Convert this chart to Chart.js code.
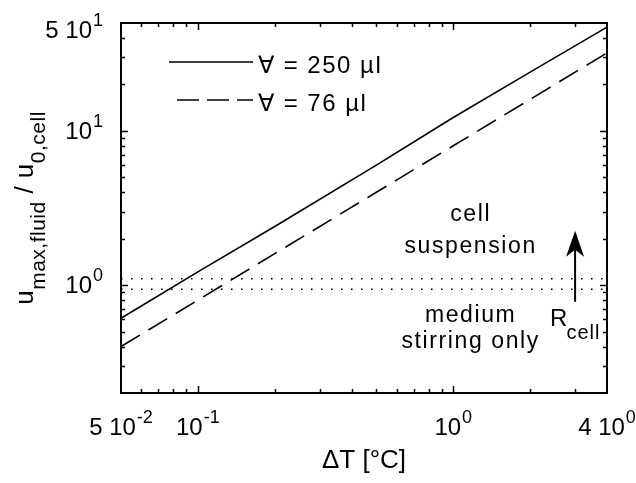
<!DOCTYPE html>
<html><head><meta charset="utf-8">
<script src="https://cdn.jsdelivr.net/npm/chart.js@4/dist/chart.umd.min.js"></script>
<style>html,body{margin:0;padding:0;background:#fff;}canvas{display:block;}</style>
</head><body>
<canvas id="c" width="636" height="483"></canvas>
<script>
// ---- data ----
const deltaT = [0.05, 0.1, 0.2, 0.5, 1, 2, 4];
const u250 = [0.61, 1.22, 2.4, 6.0, 12.2, 24, 47];
const u76 = [0.40, 0.80, 1.6, 4.0, 8.0, 16, 32];
const thresholdLevels = [1.1, 0.94];
const seriesLabels = ['\u2200 = 250 \u00b5l', '\u2200 = 76 \u00b5l'];

const xTickValues = [0.05, 0.1, 1, 4];
const xTickMant = ['5 ', '', '', '4 '];
const xTickExp = ['-2', '-1', '0', '0'];
const yTickValues = [50, 10, 1];
const yTickMant = ['5 ', '', ''];
const yTickExp = ['1', '1', '0'];
const xMajor = [0.1, 1];
const xMinor = [0.06, 0.07, 0.08, 0.09, 0.2, 0.3, 0.4, 0.5, 0.6, 0.7, 0.8, 0.9, 2, 3];
const yMajor = [1, 10];
const yMinor = [0.3, 0.4, 0.5, 0.6, 0.7, 0.8, 0.9, 2, 3, 4, 5, 6, 7, 8, 9, 20, 30, 40];

// annotation positions (data coords, text baselines)
const annX = 1.17;
const annTexts = ['cell', 'suspension', 'medium', 'stirring only'];
const annY = [2.6, 1.61, 0.575, 0.39];
const arrowX = 3.0, arrowFrom = 0.78, arrowTo = 2.25;
const rLabelX = 3.0, rLabelY = 0.545;

const FONT = '"Liberation Sans", Arial, sans-serif';

function pts(xs, ys) { return xs.map((x, i) => ({ x: x, y: ys[i] })); }

const datasets = [
  { data: pts(deltaT, u250), borderColor: '#000', borderWidth: 1.6, pointRadius: 0, tension: 0 },
  { data: pts(deltaT, u76), borderColor: '#000', borderWidth: 1.6, borderDash: [22, 10], pointRadius: 0, tension: 0 }
];
thresholdLevels.forEach(v => {
  datasets.push({ data: [{ x: 0.05, y: v }, { x: 4, y: v }], borderColor: '#000', borderWidth: 1.6, borderDash: [1.6, 8.4], pointRadius: 0 });
});

function drawPow(ctx, mant, exp, x, y, align) {
  const bf = '24px ' + FONT, sf = '18px ' + FONT;
  ctx.letterSpacing = '0px';
  ctx.font = bf; const wb = ctx.measureText(mant + '10').width;
  ctx.font = sf; const ws = ctx.measureText(exp).width;
  const tw = wb + ws + 1;
  let x0 = align === 'center' ? x - tw / 2 : (align === 'right' ? x - tw : x);
  ctx.textAlign = 'left'; ctx.textBaseline = 'alphabetic';
  ctx.font = bf; ctx.fillText(mant + '10', x0, y);
  ctx.font = sf; ctx.fillText(exp, x0 + wb + 1, y - 12);
}

const decor = {
  id: 'decor',
  afterDraw(chart) {
    const ctx = chart.ctx, a = chart.chartArea, xs = chart.scales.x, ys = chart.scales.y;
    ctx.save();
    ctx.strokeStyle = '#000'; ctx.fillStyle = '#000';
    // frame
    ctx.lineWidth = 2;
    ctx.strokeRect(a.left, a.top, a.right - a.left, a.bottom - a.top);
    // ticks
    ctx.lineWidth = 1.5;
    function xt(v, len) {
      const p = Math.round(xs.getPixelForValue(v)) + 0.5;
      ctx.beginPath(); ctx.moveTo(p, a.bottom); ctx.lineTo(p, a.bottom - len);
      ctx.moveTo(p, a.top); ctx.lineTo(p, a.top + len); ctx.stroke();
    }
    function yt(v, len) {
      const p = Math.round(ys.getPixelForValue(v)) + 0.5;
      ctx.beginPath(); ctx.moveTo(a.left, p); ctx.lineTo(a.left + len, p);
      ctx.moveTo(a.right, p); ctx.lineTo(a.right - len, p); ctx.stroke();
    }
    xMinor.forEach(v => xt(v, 4)); xMajor.forEach(v => xt(v, 7));
    yMinor.forEach(v => yt(v, 4)); yMajor.forEach(v => yt(v, 7));
    // tick labels
    xTickValues.forEach((v, i) => drawPow(ctx, xTickMant[i], xTickExp[i], xs.getPixelForValue(v), a.bottom + 42, 'center'));
    yTickValues.forEach((v, i) => {
      const p = Math.max(ys.getPixelForValue(v), a.top + 7);
      drawPow(ctx, yTickMant[i], yTickExp[i], a.left - 18, p + 8, 'right');
    });
    // x title
    ctx.font = '26px ' + FONT; ctx.textAlign = 'center'; ctx.textBaseline = 'alphabetic';
    ctx.fillText('\u0394T [\u00b0C]', (a.left + a.right) / 2, 468);
    // y title (rotated)
    ctx.save();
    ctx.translate(33, 208); ctx.rotate(-Math.PI / 2);
    ctx.letterSpacing = '0.5px';
    const parts = [['u', 0, 26], ['max,fluid', 12, 21], [' / u', 0, 26], ['0,cell', 12, 21]];
    let tw = 0;
    parts.forEach(p => { ctx.font = p[2] + 'px ' + FONT; tw += ctx.measureText(p[0]).width; });
    let cx = -tw / 2; ctx.textAlign = 'left'; ctx.textBaseline = 'alphabetic';
    parts.forEach(p => { ctx.font = p[2] + 'px ' + FONT; ctx.fillText(p[0], cx, p[1]); cx += ctx.measureText(p[0]).width; });
    ctx.restore();
    // legend
    ctx.lineWidth = 1.6;
    ctx.beginPath(); ctx.setLineDash([]); ctx.moveTo(169, 62); ctx.lineTo(253, 62); ctx.stroke();
    ctx.beginPath(); ctx.setLineDash([22, 8]); ctx.moveTo(177, 100); ctx.lineTo(253, 100); ctx.stroke();
    ctx.setLineDash([]);
    ctx.font = '24px ' + FONT; ctx.textAlign = 'left'; ctx.textBaseline = 'alphabetic';
    ctx.letterSpacing = '1.5px';
    ctx.fillText(seriesLabels[0], 258, 73);
    ctx.fillText(seriesLabels[1], 258, 111);
    // annotations
    ctx.font = '23px ' + FONT;
    ctx.letterSpacing = '1.6px';
    ctx.textAlign = 'center';
    annTexts.forEach((t, i) => ctx.fillText(t, xs.getPixelForValue(annX), ys.getPixelForValue(annY[i])));
    ctx.letterSpacing = '0px';
    // arrow
    const ax = xs.getPixelForValue(arrowX), ay0 = ys.getPixelForValue(arrowFrom), ay1 = ys.getPixelForValue(arrowTo);
    ctx.lineWidth = 2;
    ctx.beginPath(); ctx.moveTo(ax, ay0); ctx.lineTo(ax, ay1 + 12); ctx.stroke();
    ctx.beginPath(); ctx.moveTo(ax, ay1); ctx.lineTo(ax + 9, ay1 + 26); ctx.lineTo(ax, ay1 + 19);
    ctx.lineTo(ax - 9, ay1 + 26); ctx.closePath(); ctx.fill();
    // R_cell
    const rx = xs.getPixelForValue(rLabelX), ry = ys.getPixelForValue(rLabelY);
    ctx.textAlign = 'left'; ctx.textBaseline = 'alphabetic';
    ctx.font = '24px ' + FONT; ctx.fillText('R', rx - 25, ry);
    const rw = ctx.measureText('R').width;
    ctx.letterSpacing = '1px';
    ctx.font = '20px ' + FONT; ctx.fillText('cell', rx - 26 + rw, ry + 13);
    ctx.restore();
  }
};

new Chart(document.getElementById('c'), {
  type: 'line',
  data: { datasets: datasets },
  options: {
    responsive: false, animation: false, devicePixelRatio: 1,
    layout: { padding: { left: 121, right: 29, top: 23, bottom: 90 } },
    plugins: { legend: { display: false }, tooltip: { enabled: false } },
    scales: {
      x: { type: 'logarithmic', min: 0.05, max: 4, display: false },
      y: { type: 'logarithmic', min: 0.2, max: 50, display: false }
    }
  },
  plugins: [decor]
});
</script>
</body></html>
